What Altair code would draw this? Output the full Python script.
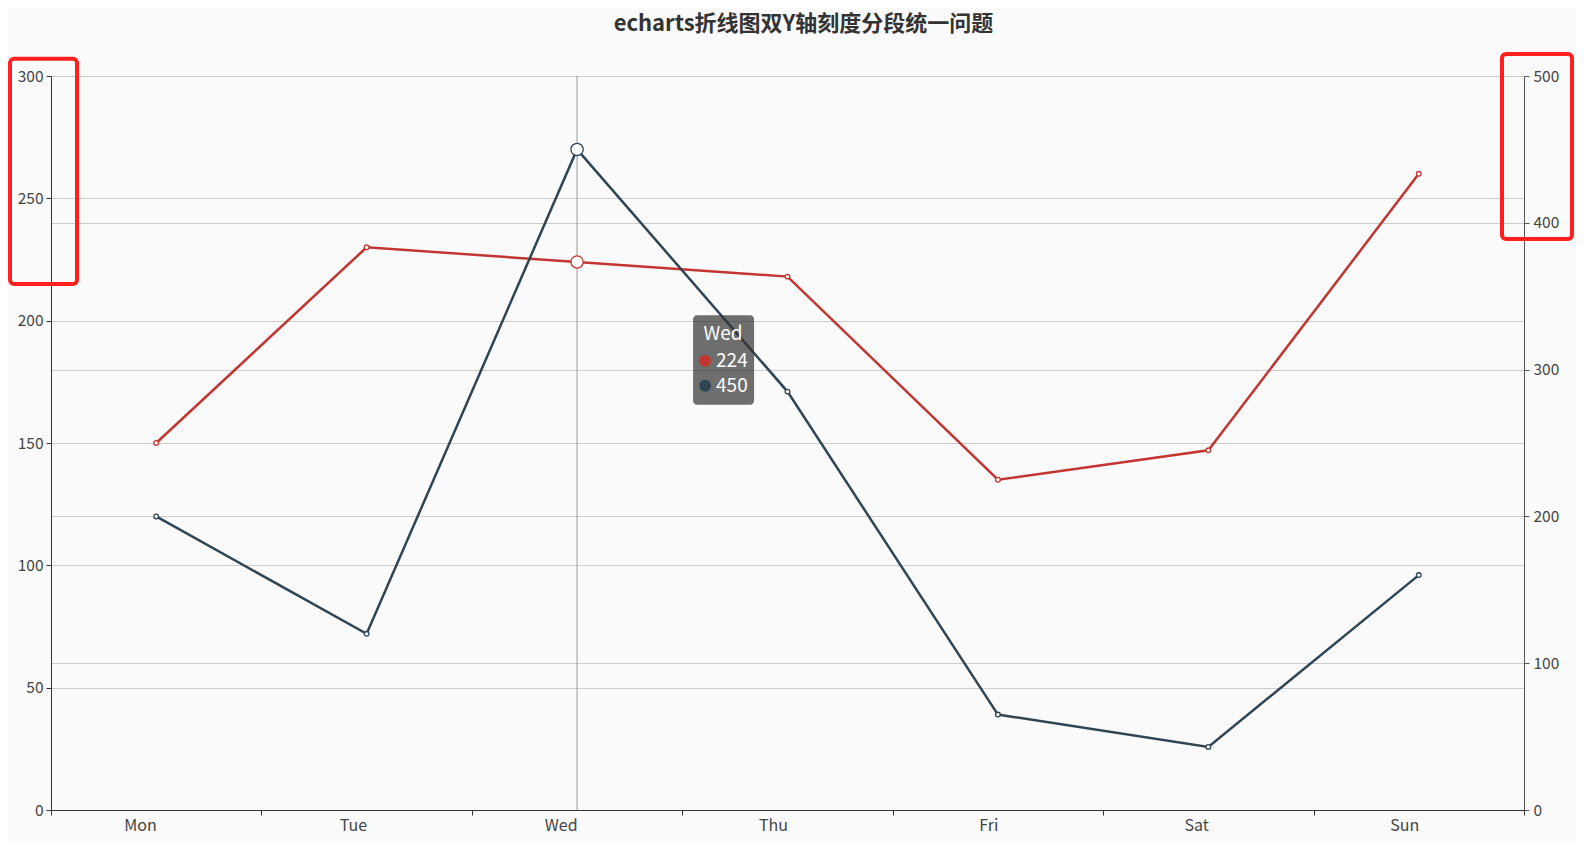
import altair as alt
import pandas as pd

days = ["Mon", "Tue", "Wed", "Thu", "Fri", "Sat", "Sun"]
series_a = [150, 230, 224, 218, 135, 147, 260]   # left axis (red)
series_b = [200, 120, 450, 285, 65, 43, 160]     # right axis (dark)
left_ticks = [0, 50, 100, 150, 200, 250, 300]
right_ticks = [0, 100, 200, 300, 400, 500]
hover_day = "Wed"
tip_a = 224
tip_b = 450

RED = "#c23531"
DARK = "#2f4554"
FONT = "Noto Sans CJK SC"

df_a = pd.DataFrame({"day": days, "v": series_a})
df_b = pd.DataFrame({"day": days, "v": series_b})

x_enc = alt.X("day:N", sort=days, title=None,
              scale=alt.Scale(paddingInner=0, paddingOuter=0),
              axis=alt.Axis(tickBand="extent", labelAngle=0, grid=False,
                            domainColor="#333", tickColor="#333",
                            labelColor="#444", labelFontSize=16,
                            labelFont=FONT, labelFontWeight="normal",
                            labelPadding=10, tickSize=5))

y_left = alt.Y("v:Q", title=None,
               scale=alt.Scale(domain=[0, 300], nice=False, zero=True),
               axis=alt.Axis(orient="left", values=left_ticks, grid=True,
                             gridColor="#cccccc", domainColor="#333",
                             tickColor="#333", labelColor="#444",
                             labelFontSize=15.5, labelFont=FONT, tickSize=5,
                             labelPadding=3))
y_right = alt.Y("v:Q", title=None,
                scale=alt.Scale(domain=[0, 500], nice=False, zero=True),
                axis=alt.Axis(orient="right", values=right_ticks, grid=True,
                              gridColor="#cccccc", domainColor="#555",
                              tickColor="#555", labelColor="#444",
                              labelFontSize=15.5, labelFont=FONT, tickSize=5,
                              labelPadding=4))

base_a = alt.Chart(df_a).encode(x=x_enc, y=y_left)
line_a = base_a.mark_line(color=RED, strokeWidth=2.5)
pts_a = base_a.mark_point(shape="circle", filled=True, fill="white",
                          stroke=RED, strokeWidth=1.3, size=22, opacity=1)
big_a = alt.Chart(df_a[df_a.day == hover_day]).mark_point(
    shape="circle", filled=True, fill="white", stroke=RED, strokeWidth=1.3,
    size=150, opacity=1).encode(x=alt.X("day:N", sort=days), y="v:Q")

rule = alt.Chart(pd.DataFrame({"day": [hover_day]})).mark_rule(
    color="#999999", strokeWidth=1).encode(x=alt.X("day:N", sort=days))

# red highlight boxes (annotations)
box_df = pd.DataFrame({"a": [0]})
box_left = alt.Chart(box_df).mark_rect(
    fill=None, stroke="#ff1f1f", strokeWidth=4, cornerRadius=4).encode(
    x=alt.value(-41), x2=alt.value(26),
    y=alt.YDatum(307), y2=alt.Y2Datum(215))

left_group = alt.layer(rule, line_a, pts_a, big_a, box_left)

base_b = alt.Chart(df_b).encode(x=alt.X("day:N", sort=days), y=y_right)
line_b = base_b.mark_line(color=DARK, strokeWidth=2.5)
pts_b = base_b.mark_point(shape="circle", filled=True, fill="white",
                          stroke=DARK, strokeWidth=1.3, size=22, opacity=1)
big_b = alt.Chart(df_b[df_b.day == hover_day]).mark_point(
    shape="circle", filled=True, fill="white", stroke=DARK, strokeWidth=1.3,
    size=150, opacity=1).encode(x=alt.X("day:N", sort=days), y="v:Q")

box_right = alt.Chart(box_df).mark_rect(
    fill=None, stroke="#ff1f1f", strokeWidth=4, cornerRadius=4).encode(
    x=alt.value(1451), x2=alt.value(1521),
    y=alt.YDatum(515), y2=alt.Y2Datum(389))

# tooltip box anchored at the hovered day (right-axis units)
tip_bg = alt.Chart(box_df).mark_rect(
    fill="#323232", fillOpacity=0.7, cornerRadius=4,
    xOffset=116, x2Offset=177).encode(
    x=alt.XDatum(hover_day, bandPosition=0.5),
    x2=alt.X2Datum(hover_day),
    y=alt.YDatum(337), y2=alt.Y2Datum(276))
tip_title = alt.Chart(box_df).mark_text(
    text=hover_day, color="white", fontSize=19, font=FONT, dx=146,
    align="center", baseline="middle").encode(
    x=alt.XDatum(hover_day), y=alt.YDatum(324))
tip_dots = alt.Chart(pd.DataFrame({"yy": [306, 289], "c": [RED, DARK]})).mark_point(
    shape="circle", filled=True, size=140, opacity=1, xOffset=128).encode(
    x=alt.XDatum(hover_day), y=alt.Y("yy:Q"),
    color=alt.Color("c:N", scale=None))
tip_vals = alt.Chart(pd.DataFrame({"yy": [306, 289],
                                   "t": [str(tip_a), str(tip_b)]})).mark_text(
    color="white", fontSize=19, font=FONT, dx=139, align="left",
    baseline="middle").encode(
    x=alt.XDatum(hover_day), y=alt.Y("yy:Q"), text="t:N")

right_group = alt.layer(line_b, pts_b, big_b, box_right,
                        tip_bg, tip_title, tip_dots, tip_vals)

chart = alt.layer(left_group, right_group).resolve_scale(
    y="independent").properties(
    width=1473, height=734,
    padding={"left": 43, "top": 68, "right": 52, "bottom": 32},
    autosize=alt.AutoSizeParams(type="none"),
    background="#fafafa",
    title=alt.TitleParams(
        "echarts折线图双Y轴刻度分段统一问题", anchor="middle",
        fontSize=22, font=FONT, fontWeight="bold", color="#333",
        offset=16, dx=16),
).configure_view(stroke=None)

chart.save("out.html", embed_options={"renderer": "svg", "actions": False})
